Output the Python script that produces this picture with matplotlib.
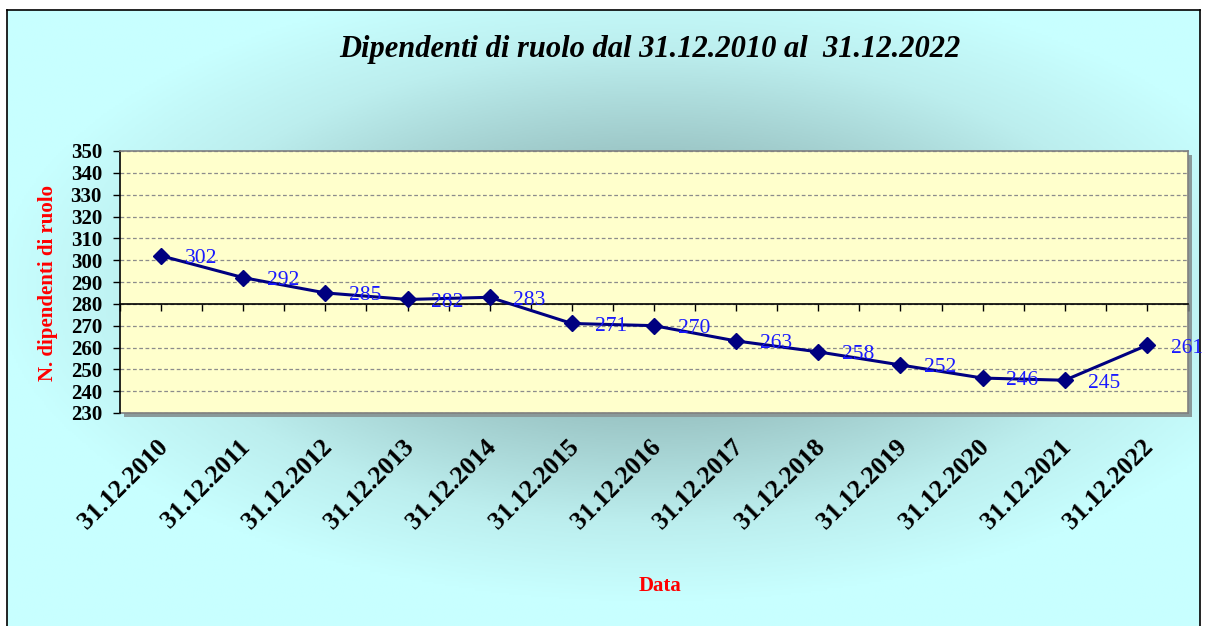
import numpy as np
import matplotlib
matplotlib.use("Agg")
import matplotlib.pyplot as plt
from matplotlib.patches import Rectangle
from matplotlib.colors import LinearSegmentedColormap
import matplotlib.transforms as mtransforms

categories = ["31.12.2010", "31.12.2011", "31.12.2012", "31.12.2013", "31.12.2014",
              "31.12.2015", "31.12.2016", "31.12.2017", "31.12.2018", "31.12.2019",
              "31.12.2020", "31.12.2021", "31.12.2022"]
values = [302, 292, 285, 282, 283, 271, 270, 263, 258, 252, 246, 245, 261]
yticks = list(range(230, 351, 10))

W, H = 1206, 626
fig = plt.figure(figsize=(W / 100, H / 100), dpi=100)
fig.patch.set_facecolor("white")

# background frame with radial gradient
bx0, by0, bx1, by1 = 7, 10, 1200, 640
bg = fig.add_axes([bx0 / W, 1 - by1 / H, (bx1 - bx0) / W, (by1 - by0) / H])
bg.set_xlim(0, 1); bg.set_ylim(0, 1)
yy, xx = np.mgrid[0:1:300j, 0:1:600j]
d = np.sqrt(((xx - 0.54) / 0.55) ** 2 + ((yy - 0.56) / 0.50) ** 2)
d = np.clip(d, 0, 1)
cmap = LinearSegmentedColormap.from_list("bgc", [(0, "#6f9696"), (0.45, "#9fcaca"), (0.75, "#bceeee"), (1, "#c8ffff")])
bg.imshow(d, cmap=cmap, extent=[0, 1, 0, 1], aspect="auto", origin="lower", vmin=0, vmax=1)
for s in bg.spines.values():
    s.set_color("black"); s.set_linewidth(1.2)
bg.set_xticks([]); bg.set_yticks([])

# plot area geometry (pixels)
px0, py0, px1, py1 = 120, 151, 1188, 413
# shadow
fig.patches.append(Rectangle(((px0 + 4) / W, 1 - (py1 + 4) / H), (px1 - px0) / W, (py1 - py0) / H,
                             transform=fig.transFigure, facecolor="#8a9a9a", edgecolor="none", zorder=0.5))
ax = fig.add_axes([px0 / W, 1 - py1 / H, (px1 - px0) / W, (py1 - py0) / H], zorder=2)
ax.set_facecolor("#ffffcc")

x = np.arange(len(categories))
ax.plot(x, values, color="#000080", lw=2.2, marker="D", markersize=8, zorder=5)
ax.set_xlim(-0.5, len(categories) - 0.5)
ax.set_ylim(230, 350)
ax.set_yticks(yticks)
ax.yaxis.grid(True, linestyle=(0, (3, 2)), color="#8c8c8c", lw=0.9)
ax.set_axisbelow(True)

serif = ["Liberation Serif", "DejaVu Serif"]
ax.set_yticklabels([str(v) for v in yticks], fontsize=15, fontweight="bold", family=serif)
ax.tick_params(axis="y", direction="out", length=5, width=1, pad=8, colors="black")

# category axis crossing at 280
ax.spines["bottom"].set_position(("data", 280))
ax.spines["bottom"].set_color("black")
ax.spines["bottom"].set_linewidth(1.2)
ax.set_xticks(np.arange(-0.5, len(categories), 0.5))
ax.tick_params(axis="x", direction="out", length=5, width=1, labelbottom=False)
ax.spines["left"].set_color("black"); ax.spines["left"].set_linewidth(1.2)
for s in ["top", "right"]:
    ax.spines[s].set_color("#808080"); ax.spines[s].set_linewidth(1.2)
ax.add_line(plt.Line2D([0, 1], [0, 0], transform=ax.transAxes, color="#808080", lw=1.2, clip_on=False))

# data labels
for xi, v in zip(x, values):
    ax.annotate(str(v), (xi, v), xytext=(17, -2), textcoords="offset points",
                ha="left", va="center", color="#1a1aff", fontsize=15.5, family=serif, zorder=6)

# category labels
trans = mtransforms.blended_transform_factory(ax.transData, ax.transAxes)
offs = mtransforms.offset_copy(trans, fig=fig, x=-0.05, y=-0.22, units="inches")
for xi, c in zip(x, categories):
    ax.text(xi, 0, c, transform=offs, rotation=45, rotation_mode="anchor", ha="right", va="top",
            fontsize=18.5, fontweight="bold", family=serif, color="black")

fig.text(650 / W, 1 - 50 / H, "Dipendenti di ruolo dal 31.12.2010 al  31.12.2022", ha="center", va="center",
         fontsize=22, style="italic", fontweight="bold", family=serif, color="black")
fig.text(48 / W, 1 - 283 / H, "N. dipendenti di ruolo", rotation=90, ha="center", va="center",
         fontsize=15, fontweight="bold", family=serif, color="#ff0000")
fig.text(660 / W, 1 - 586 / H, "Data", ha="center", va="center",
         fontsize=15, fontweight="bold", family=serif, color="#ff0000")

fig.savefig("out.png", dpi=100)
